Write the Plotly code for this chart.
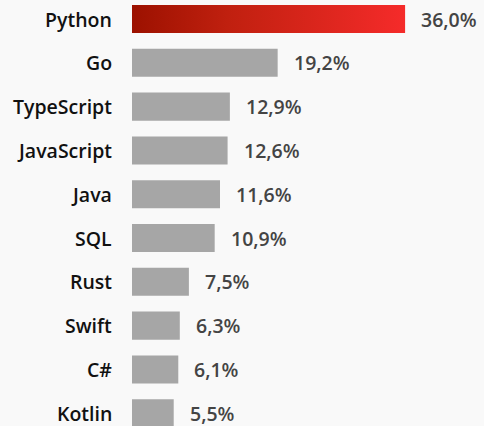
import plotly.graph_objects as go

languages = ["Python", "Go", "TypeScript", "JavaScript", "Java", "SQL", "Rust", "Swift", "C#", "Kotlin"]
shares = [36.0, 19.2, 12.9, 12.6, 11.6, 10.9, 7.5, 6.3, 6.1, 5.5]
labels = [f"{v:.1f}%".replace(".", ",") for v in shares]

GREY = "#a6a6a6"
BG = "#f9f9f9"
FONT = "Open Sans"
SIZE = 19.5
BAR_W = 0.64

positions = list(range(len(languages)))
colors = [BG if i == 0 else GREY for i in positions]

fig = go.Figure()
fig.add_trace(go.Bar(
    x=shares, y=positions, orientation="h", width=BAR_W,
    marker=dict(color=colors, line=dict(width=0)),
    hoverinfo="skip",
))

# gradient bar for the top language
v0 = shares[0]
h = BAR_W / 2
fig.add_trace(go.Scatter(
    x=[0, v0, v0, 0, 0], y=[-h, -h, h, h, -h],
    mode="lines", line=dict(width=0), fill="toself",
    fillgradient=dict(type="horizontal",
                      colorscale=[[0, "#9c1100"], [0.35, "#c0200f"], [1, "#f52b2a"]]),
    hoverinfo="skip", showlegend=False,
))

for i, (v, t, name) in enumerate(zip(shares, labels, languages)):
    fig.add_annotation(x=v, y=i, text=t, showarrow=False, xanchor="left",
                       xshift=14, font=dict(family=FONT, size=SIZE, color="#444444", weight=600))
    fig.add_annotation(x=0, xref="paper", y=i, text=name, showarrow=False, xanchor="right",
                       xshift=-18, font=dict(family=FONT, size=SIZE, color="#111111", weight=600))

fig.update_layout(
    width=484, height=426,
    margin=dict(l=132, r=0, t=0, b=0),
    paper_bgcolor=BG, plot_bgcolor=BG,
    showlegend=False,
    xaxis=dict(range=[0, 46.4], visible=False),
    yaxis=dict(range=[9.292, -0.434], showticklabels=False,
               showgrid=False, zeroline=False, ticks=""),
)

fig.write_html("out.html", config={"displayModeBar": False},
               post_script="document.body.style.margin='0';document.body.style.background='%s';" % BG)
